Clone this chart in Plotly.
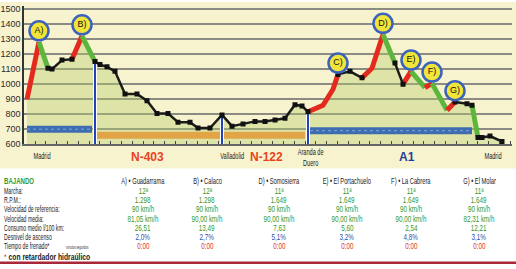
import json
import plotly.graph_objects as go

# ---------------- data ----------------
# profile: distance (km, approx) and elevation (m)
km = [0, 12, 21, 25, 35, 45, 55, 68, 73, 80, 88, 98, 110, 120, 130, 141, 151, 163, 171, 183,
      195, 205, 216, 228, 238, 248, 258, 268, 275, 281, 296, 306, 311, 323, 335, 345, 356, 368,
      376, 384, 398, 405, 420, 428, 440, 445, 451, 455, 463, 475]
elev = [900, 1280, 1105, 1100, 1160, 1165, 1320, 1150, 1130, 1115, 1085, 935, 935, 890, 805, 805,
        747, 747, 708, 708, 795, 720, 735, 752, 752, 762, 773, 863, 855, 816, 859, 966, 1065, 1085,
        1042, 1106, 1330, 1140, 1000, 1085, 977, 1005, 826, 881, 870, 860, 644, 644, 654, 618]
# colour of each edge: r = climb, g = descent, k = plain road
seg = list("rgkkkrg" + "k" * 22 + "rrrkkrrgkrgrgrkkgkkk")

peak_idx = [1, 6, 32, 36, 39, 41, 43]
peak_labels = ["A)", "B)", "C)", "D)", "E)", "F)", "G)"]

junction_idx = [7, 20, 29]

road_start = [0, 70, 283]
road_end = [65, 278, 445]
road_elev = [700, 660, 690]
road_color = ["#3d6cb0", "#e1a446", "#3d6cb0"]

route_names = ["N-403", "N-122", "A1"]
route_km = [120, 239, 380]
route_colors = ["#e8421e", "#e8421e", "#1d3f9a"]

city_names = ["Madrid", "Valladolid", "Aranda de<br>Duero", "Madrid"]
city_km = [15, 205, 283, 466]

y_ticks = [600, 700, 800, 900, 1000, 1100, 1200, 1300, 1400, 1500]

# table
col_heads = ["A) • Guadarrama", "B) • Calaco", "D) • Somosierra", "E) • El Portachuelo",
             "F) • La Cabrera", "G) • El Molar"]
row_labels = ["Marcha:", "R.P.M.:", "Velocidad de referencia:", "Velocidad media:",
              "Consumo medio l/100 km:", "Desnivel de ascenso", "Tiempo de frenado*"]
marcha = ["12ª", "12ª", "11ª", "11ª", "11ª", "11ª"]
rpm = ["1.298", "1.298", "1.649", "1.649", "1.649", "1.649"]
vref = ["90 km/h", "90 km/h", "90 km/h", "90 km/h", "90 km/h", "90 km/h"]
vmed = ["81,05 km/h", "90,00 km/h", "90,00 km/h", "90,00 km/h", "90,00 km/h", "82,31 km/h"]
consumo = ["26,51", "13,49", "7,63", "5,60", "2,54", "12,21"]
desnivel = ["2,0%", "2,7%", "5,1%", "3,2%", "4,8%", "3,1%"]
tiempo = ["0:00", "0:00", "0:00", "0:00", "0:00", "0:00"]

# ---------------- styling ----------------
W, H = 516, 269
NARROW = "Liberation Sans, Arial, sans-serif"
BOLD = "Liberation Sans, Arial, sans-serif"
SEGCOL = {"r": "#e42a1e", "g": "#5db53e", "k": "#1b1b1b"}
GREEN = "#2f9a2f"
BLUE = "#2f4fa8"
RED = "#e03a2a"


def py(p):
    return (H - p) / H


def px(p):
    return p / W


fig = go.Figure()

# filled area under profile
fig.add_trace(go.Scatter(x=km, y=elev, mode="lines", line=dict(width=0),
                         fill="tozeroy", fillcolor="rgba(178,204,104,0.38)",
                         hoverinfo="skip", showlegend=False))

# road bars
for s, e, y, c in zip(road_start, road_end, road_elev, road_color):
    fig.add_trace(go.Scatter(x=[s, e], y=[y, y], mode="lines", line=dict(color=c, width=7),
                             hoverinfo="skip", showlegend=False))
    if c != "#e1a446":
        fig.add_trace(go.Scatter(x=[s, e], y=[y, y], mode="lines",
                                 line=dict(color="#7ea6d8", width=1, dash="dot"),
                                 hoverinfo="skip", showlegend=False))

# junction verticals
for j in junction_idx:
    fig.add_trace(go.Scatter(x=[km[j], km[j]], y=[600, elev[j]], mode="lines",
                             line=dict(color="white", width=4), hoverinfo="skip", showlegend=False))
    fig.add_trace(go.Scatter(x=[km[j], km[j]], y=[600, elev[j]], mode="lines",
                             line=dict(color="#2343b8", width=2), hoverinfo="skip", showlegend=False))

# coloured runs of the profile
runs = []
start = 0
for i in range(1, len(seg) + 1):
    if i == len(seg) or seg[i] != seg[start]:
        runs.append((seg[start], start, i))
        start = i
for c, s, e in runs:
    if c != "k":
        fig.add_trace(go.Scatter(x=km[s:e + 1], y=elev[s:e + 1], mode="lines",
                                 line=dict(color=SEGCOL[c], width=5),
                                 hoverinfo="skip", showlegend=False))
for c, s, e in runs:
    if c == "k":
        fig.add_trace(go.Scatter(x=km[s:e + 1], y=elev[s:e + 1], mode="lines+markers",
                                 line=dict(color=SEGCOL[c], width=2.5),
                                 marker=dict(symbol="square", size=5, color="#111"),
                                 hoverinfo="skip", showlegend=False))

# peak circles
fig.add_trace(go.Scatter(x=[km[i] for i in peak_idx], y=[elev[i] + 75 for i in peak_idx],
                         mode="markers+text", text=peak_labels, textposition="middle center",
                         textfont=dict(family=BOLD, size=9, color="#111"),
                         marker=dict(size=19, color="#f1e53a", line=dict(color="#3b62bd", width=2.5)),
                         hoverinfo="skip", showlegend=False, cliponaxis=False))

# ---------------- axes ----------------
fig.update_xaxes(domain=[px(24), px(512)], range=[-3, 485], showgrid=False, zeroline=False,
                 showticklabels=False, ticks="inside", ticklen=3, tickcolor="#444", tick0=8,
                 dtick=10.8, showline=True, linecolor="#666", linewidth=1.5)
fig.update_yaxes(domain=[py(146), py(4)], range=[600, 1521], tickvals=y_ticks,
                 tickfont=dict(family=NARROW, size=9, color="#2a2a2a"),
                 showgrid=True, gridcolor="#8b8b84", gridwidth=1.5, zeroline=False,
                 showline=True, linecolor="#333", linewidth=1.5, ticks="")

# ---------------- annotations ----------------
ann = []
scales = []
anchors = []


def add(x, y, text, xref="paper", xanchor="center", size=9, color="#222", family=NARROW, scale=1.0):
    ann.append(dict(x=x, y=y, xref=xref, yref="paper", text=text, showarrow=False,
                    xanchor=xanchor, yanchor="middle", borderpad=0,
                    font=dict(family=family, size=size, color=color)))
    scales.append(scale)
    anchors.append(xanchor)


for name, x, c in zip(route_names, route_km, route_colors):
    add(x, py(159), "<b>%s</b>" % name, xref="x", size=12, color=c, family=BOLD, scale=1.0)
for name, x in zip(city_names, city_km):
    add(x, py(159.5 if "<br>" in name else 158), name, xref="x", size=8.5, color="#222", scale=0.66)

col_x = [143, 207, 279, 347, 411, 479]
row_y = [194, 203.5, 212.7, 222.3, 231.7, 241.5, 251]
add(px(3), py(183), "<b>BAJANDO</b>", xanchor="left", size=9.5, color=GREEN, scale=0.64)
for x, h in zip(col_x, col_heads):
    add(px(x), py(183.5), h, size=9, color="#222", scale=0.64)
for y, lab in zip(row_y, row_labels):
    add(px(3), py(y), lab, xanchor="left", size=8.5, color="#222", scale=0.61)
add(px(65), py(251.5), "minutos:segundos", xanchor="left", size=5, color="#333", scale=0.55)
add(px(3), py(261.5), "<span style='color:#e03a2a'>*</span> <b>con retardador hidraúlico</b>",
    xanchor="left", size=9, color="#222", scale=0.75)
rows = [(marcha, GREEN), (rpm, GREEN), (vref, GREEN), (vmed, GREEN), (consumo, GREEN),
        (desnivel, BLUE), (tiempo, RED)]
for (vals, c), y in zip(rows, row_y):
    for x, v in zip(col_x, vals):
        add(px(x), py(y), v, size=8.5, color=c, scale=0.74)

shapes = [
    dict(type="rect", xref="paper", yref="paper", x0=0, x1=1, y0=py(171), y1=1,
         fillcolor="#f8f3cf", line=dict(width=0), layer="below"),
    dict(type="rect", xref="paper", yref="paper", x0=0, x1=1, y0=0, y1=py(266.5),
         fillcolor="#a8283a", line=dict(width=0)),
]

fig.update_layout(width=W, height=H, margin=dict(l=0, r=0, t=0, b=0),
                  paper_bgcolor="white", plot_bgcolor="#f6efc2",
                  annotations=ann, shapes=shapes, showlegend=False)

# condense annotation text horizontally (the original uses a condensed typeface)
js = """
try {
  var SC = __SC__; var AN = __AN__;
  var gd = document.getElementById('{plot_id}');
  gd.querySelectorAll('g.annotation').forEach(function(g){
    var i = +g.getAttribute('data-index');
    var s = SC[i];
    if (!s || s === 1) return;
    var t = g.querySelector('text.annotation-text');
    if (!t) return;
    var b = t.getBBox();
    var cx = AN[i] === 'left' ? b.x : (AN[i] === 'right' ? b.x + b.width : b.x + b.width / 2);
    t.setAttribute('transform', 'translate(' + cx + ',0) scale(' + s + ',1) translate(' + (-cx) + ',0)');
  });
} catch (e) {}
""".replace("__SC__", json.dumps(scales)).replace("__AN__", json.dumps(anchors))

fig.write_html("out.html", post_script=js)
